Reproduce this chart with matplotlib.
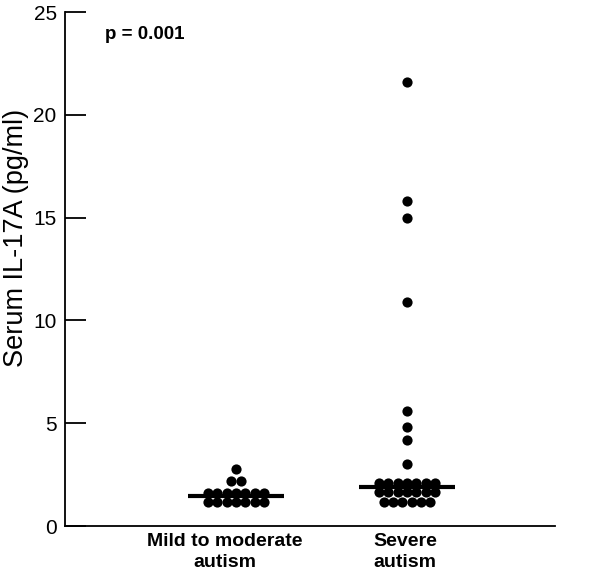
import matplotlib
matplotlib.use("Agg")
import matplotlib.pyplot as plt
import numpy as np

plt.rcParams['font.family'] = ['Liberation Sans', 'DejaVu Sans']

categories = ["Mild to moderate\nautism", "Severe\nautism"]
mild_values = [1.17]*7 + [1.6]*7 + [2.19]*2 + [2.77]
severe_values = [1.17]*6 + [1.65]*7 + [2.09]*7 + [3.0, 4.2, 4.8, 5.6, 10.9, 15.0, 15.8, 21.6]
medians = [1.45, 1.92]
p_text = "p = 0.001"

fig = plt.figure(figsize=(6.0, 5.76), dpi=100)
ax = fig.add_axes([65/600, 1-526/576, 490/600, 514/576])

def swarm_offsets(vals, step=0.0545):
    vals = np.asarray(vals)
    xs = np.zeros(len(vals))
    for v in np.unique(vals):
        idx = np.where(vals == v)[0]
        n = len(idx)
        xs[idx] = (np.arange(n) - (n-1)/2) * step
    return xs

for i, vals in enumerate([mild_values, severe_values]):
    xc = i + 1
    offs = swarm_offsets(vals)
    ax.scatter(xc + offs, vals, s=54, color='black', zorder=3, linewidths=0)
    ax.plot([xc - 0.28, xc + 0.28], [medians[i], medians[i]], color='black', lw=3, zorder=2,
            solid_capstyle='butt')

ax.set_xlim(0, 2.865)
ax.set_ylim(0, 25)
ax.set_yticks([0, 5, 10, 15, 20, 25])
ax.set_xticks([0.935, 1.99])
ax.set_xticklabels(categories, fontsize=14, fontweight='bold', linespacing=1.35)
ax.tick_params(axis='x', length=0, pad=5)
ax.tick_params(axis='y', direction='in', length=15, width=1.3, labelsize=15, pad=6)
for s in ['top', 'right']:
    ax.spines[s].set_visible(False)
for s in ['left', 'bottom']:
    ax.spines[s].set_linewidth(1.3)
ax.set_ylabel("Serum IL-17A (pg/ml)", fontsize=19.5)
ax.yaxis.set_label_coords(-0.074, 0.56)
ax.text(0.234, 23.9, p_text, fontsize=13.5, fontweight='bold', ha='left', va='center')

fig.savefig("out.png", dpi=100)
